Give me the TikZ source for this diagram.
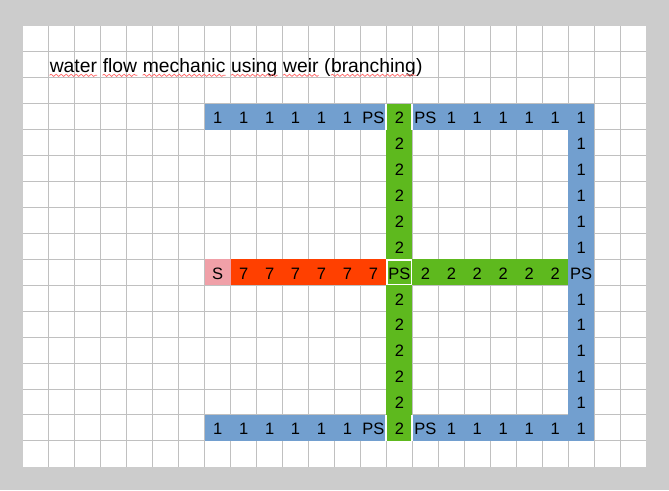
\documentclass[tikz,border=0pt]{standalone}
\usepackage{fontspec}
\setmainfont{Liberation Sans}
\usetikzlibrary{decorations.pathmorphing}
\definecolor{bg}{HTML}{CCCCCC}
\definecolor{gridc}{HTML}{C0C0C0}
\definecolor{cblue}{HTML}{729FCF}
\definecolor{cgreen}{HTML}{5EB91E}
\definecolor{cred}{HTML}{FF4000}
\definecolor{cpink}{HTML}{F0A0A8}
\definecolor{wavec}{HTML}{FF6666}
\begin{document}
\begin{tikzpicture}[x=1pt,y=-1pt,
  cell/.style={font=\fontsize{16.5}{18}\selectfont, anchor=base, inner sep=0pt, yshift=6.2pt},
  ttl/.style={font=\fontsize{19.3}{22}\selectfont, anchor=base west, inner sep=0pt},
  squig/.style={draw=wavec, line width=0.7pt, decorate, decoration={snake, amplitude=1.1pt, segment length=5pt}},
  gridline/.style={draw=gridc, line width=1pt},
  sep/.style={draw=white, line width=2pt}]
\fill[bg] (0,0) rectangle (669,490);
\useasboundingbox (0,0) rectangle (669,490);
\fill[white] (23,26) rectangle (646,467);

\begin{scope}[shift={(23pt,-26pt)}, x=25.96pt, y=-25.93pt]
  % grid
  \foreach \i in {1,...,23} \draw[gridline] (\i,0) -- (\i,17);
  \foreach \j in {1,...,16} \draw[gridline] (0,\j) -- (24,\j);
  % fills
  \fill[cblue] (7,3) rectangle (22,4);
  \fill[cblue] (7,15) rectangle (22,16);
  \fill[cblue] (21,3) rectangle (22,16);
  \fill[cgreen] (14,3) rectangle (15,16);
  \fill[cgreen] (14,9) rectangle (21,10);
  \fill[cred] (8,9) rectangle (14,10);
  \fill[cpink] (7,9) rectangle (8,10);
  % white separators
  \draw[sep] (13.97,3) -- (13.97,4) (14.97,3) -- (14.97,4)
             (13.97,15) -- (13.97,16) (14.97,15) -- (14.97,16);
  \draw[draw=white, line width=1.5pt] (14.02,9.02) rectangle (14.97,9.96);
  % top and bottom rows
  \foreach \r in {3,15} {
    \foreach \c in {7,...,12} \node[cell] (a\c-\r) at (\c+0.5,\r+1) {1};
    \node[cell] (a13-\r) at (13.5,\r+1) {PS};
    \node[cell] (a14-\r) at (14.5,\r+1) {2};
    \node[cell] (a15-\r) at (15.5,\r+1) {PS};
    \foreach \c in {16,...,21} \node[cell] (a\c-\r) at (\c+0.5,\r+1) {1};
  }
  % vertical columns
  \foreach \r in {4,...,8,10,11,12,13,14} {
    \node[cell] (a14-\r) at (14.5,\r+1) {2};
    \node[cell] (a21-\r) at (21.5,\r+1) {1};
  }
  % middle row
  \node[cell] (a7-9) at (7.5,10) {S};
  \foreach \c in {8,...,13} \node[cell] (a\c-9) at (\c+0.5,10) {7};
  \node[cell] (a14-9) at (14.5,10) {PS};
  \foreach \c in {15,...,20} \node[cell] (a\c-9) at (\c+0.5,10) {2};
  \node[cell] (a21-9) at (21.5,10) {PS};
\end{scope}

% title
\node[ttl] (w1) at (49.6,72.7) {water};
\node[ttl] (w2) at ([xshift=5.36pt]w1.base east) {flow};
\node[ttl] (w3) at ([xshift=5.36pt]w2.base east) {mechanic};
\node[ttl] (w4) at ([xshift=5.36pt]w3.base east) {using};
\node[ttl] (w5) at ([xshift=5.36pt]w4.base east) {weir};
\node[ttl] (w6) at ([xshift=5.36pt]w5.base east) {(};
\node[ttl] (w7) at (w6.base east) {branching};
\node[ttl] (w8) at (w7.base east) {)};
\foreach \n in {w1,w2,w3,w4,w5,w7}
  \draw[squig] ([yshift=-2.6pt]\n.base west) -- ([yshift=-2.6pt]\n.base east);
\end{tikzpicture}
\end{document}
